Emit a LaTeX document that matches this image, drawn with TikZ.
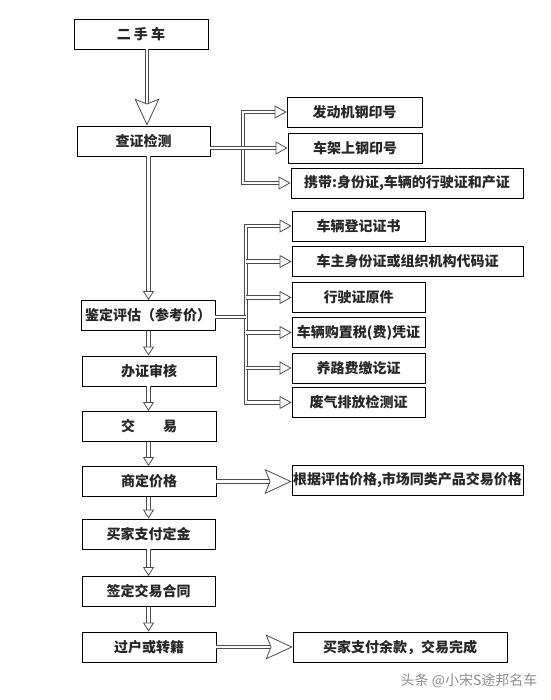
\documentclass[tikz,border=0pt]{standalone}
\usepackage{fontspec}
\setmainfont{Noto Sans CJK SC}
\usetikzlibrary{arrows.meta}

\tikzset{
  box/.style={draw, line width=0.8pt, minimum height=30pt, inner sep=1pt, text=black!85,
    font=\bfseries\fontsize{14}{16}\selectfont},
  pipe/.style={draw=black!70, line width=0.8pt, double=white, double distance=2.6pt},
  flow/.style={pipe, -{Triangle[open, length=9pt, width=11pt]}},
  branch/.style={pipe, -{Triangle[open, length=12pt, width=13pt]}},
  twin/.style={pipe, {Triangle[open, length=12pt, width=13pt]}-{Triangle[open, length=12pt, width=13pt]}},
  bigflow/.style={pipe, -{Stealth[open, length=27pt, width=25pt, inset=5pt]}},
}

\begin{document}
\begin{tikzpicture}[x=1pt, y=-1pt]
  \useasboundingbox (0,0) rectangle (550,700);
  % main column
  \node[box, minimum width=134pt] (car) at (141,34) {二 手 车};
  \node[box, minimum width=133pt] (check) at (143.5,141) {查证检测};
  \node[box, minimum width=134pt] (appr) at (148,315.5) {鉴定评估（参考价）};
  \node[box, minimum width=134pt] (audit) at (149,371) {办证审核};
  \node[box, minimum width=134pt] (deal) at (149,426.5) {交\hspace{2em}易};
  \node[box, minimum width=134pt] (price) at (149,481.5) {商定价格};
  \node[box, minimum width=133pt] (deposit) at (148.5,534) {买家支付定金};
  \node[box, minimum width=133pt] (contract) at (148.5,591.5) {签定交易合同};
  \node[box, minimum width=134pt] (transfer) at (149,647) {过户或转籍};
  % checks
  \node[box, minimum width=135pt] (eng) at (354.5,112) {发动机钢印号};
  \node[box, minimum width=134pt] (frame) at (355,148) {车架上钢印号};
  \node[box, minimum width=232pt] (carry) at (407,183) {携带:身份证,车辆的行驶证和产证};
  % papers
  \node[box, minimum width=133pt] (reg) at (358.5,226) {车辆登记证书};
  \node[box, minimum width=231pt] (owner) at (407.5,261.5) {车主身份证或组织机构代码证};
  \node[box, minimum width=133pt] (lic) at (358.5,297.5) {行驶证原件};
  \node[box, minimum width=133pt] (tax) at (358.5,332.5) {车辆购置税(费)凭证};
  \node[box, minimum width=133pt] (road) at (358.5,368) {养路费缴讫证};
  \node[box, minimum width=133pt] (gas) at (358.5,402.5) {废气排放检测证};
  % results
  \node[box, minimum width=231pt] (basis) at (407.5,480) {根据评估价格,市场同类产品交易价格};
  \node[box, minimum width=214pt] (finish) at (400,647) {买家支付余款，交易完成};
  \node[text=black!45, font=\fontsize{14}{16}\selectfont] (mark) at (469,681) {头条 @小宋S途邦名车};

  \coordinate (col) at (148.5,0);
  \coordinate (busA) at (243,148);
  \coordinate (busB) at (246,317);

  \draw[bigflow] (car.south -| 147,0) -- (check.north -| 147,0);
  \draw[flow] (check.south -| col) -- (appr.north -| col);
  \foreach \a/\b in {appr/audit, audit/deal, deal/price, price/deposit, deposit/contract, contract/transfer}
    \draw[flow] (\a.south -| col) -- (\b.north -| col);

  \draw[twin] (eng.west) -| (busA) |- (carry.west);
  \draw[branch] (check.east |- busA) -- (frame.west);

  \draw[twin] (reg.west) -| (busB) |- (gas.west);
  \draw[pipe] (appr.east |- busB) -- (busB);
  \foreach \n in {owner, lic, tax, road}
    \draw[branch] (busB |- \n.west) -- (\n.west);

  \draw[bigflow] (price.east) -- (price.east -| basis.west);
  \draw[bigflow] (transfer.east) -- (finish.west);
\end{tikzpicture}
\end{document}
